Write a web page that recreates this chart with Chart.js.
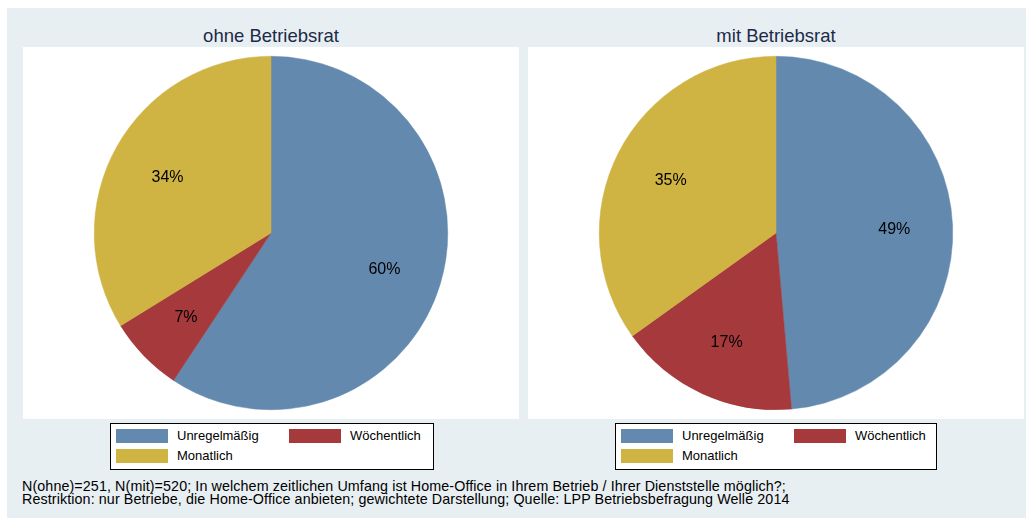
<!DOCTYPE html>
<html>
<head>
<meta charset="utf-8">
<script src="https://cdn.jsdelivr.net/npm/chart.js@4"></script>
<style>
  html, body { margin: 0; padding: 0; background: #fff; }
  body { width: 1026px; height: 518px; position: relative; overflow: hidden;
         font-family: "Liberation Sans", Arial, sans-serif; }
  #bg { position: absolute; left: 7px; top: 8px; width: 1019px; height: 510px; background: #e8eff2; }
  .plot { position: absolute; top: 47px; width: 496px; height: 372px; background: #fff; }
  .ptitle { position: absolute; top: 25px; width: 496px; text-align: center;
            font-size: 18.5px; color: #1c2a48; }
  .legend { position: absolute; top: 423px; height: 45px; border: 1px solid #000; background: #fff;
            font-size: 13px; color: #000; }
  .sw { position: absolute; width: 52px; height: 14px; }
  .lt { position: absolute; line-height: 14px; }
  #note { position: absolute; left: 22px; top: 480px; font-size: 14.3px; line-height: 13px;
          color: #000; letter-spacing: 0.1px; white-space: nowrap; }
</style>
</head>
<body>
<div id="bg"></div>
<div class="ptitle" style="left:23px">ohne Betriebsrat</div>
<div class="ptitle" style="left:528px">mit Betriebsrat</div>
<div class="plot" style="left:23px"><canvas id="pieOhne"></canvas></div>
<div class="plot" style="left:528px"><canvas id="pieMit"></canvas></div>
<div class="legend" id="legOhne" style="left:110px; width:322px"></div>
<div class="legend" id="legMit" style="left:615px; width:320px"></div>
<div id="note">N(ohne)=251, N(mit)=520; In welchem zeitlichen Umfang ist Home-Office in Ihrem Betrieb / Ihrer Dienststelle möglich?;<br>Restriktion: nur Betriebe, die Home-Office anbieten; gewichtete Darstellung; Quelle: LPP Betriebsbefragung Welle 2014</div>

<script>
const categories = ["Unregelmäßig", "Wöchentlich", "Monatlich"];
const ohneValues = [59.3, 6.9, 33.8];   // ohne Betriebsrat
const mitValues = [48.6, 16.5, 34.9];   // mit Betriebsrat
const ohneLabels = ["60%", "7%", "34%"];
const mitLabels = ["49%", "17%", "35%"];
const sliceColors = ["#638aae", "#a5393b", "#cfb343"];

// writes the percent text inside each slice
const sliceText = {
    id: 'sliceText',
    afterDatasetsDraw(chart, args, opts) {
        const ctx = chart.ctx;
        const meta = chart.getDatasetMeta(0);
        ctx.save();
        ctx.font = '16px "Liberation Sans", Arial, sans-serif';
        ctx.fillStyle = '#000';
        ctx.textAlign = 'center';
        ctx.textBaseline = 'middle';
        meta.data.forEach((arc, i) => {
            const p = arc.getProps(['x', 'y', 'startAngle', 'endAngle', 'outerRadius']);
            const mid = (p.startAngle + p.endAngle) / 2;
            const r = p.outerRadius * 0.67;
            ctx.fillText(opts.labels[i], p.x + Math.cos(mid) * r, p.y + Math.sin(mid) * r + 2);
        });
        ctx.restore();
    }
};

function makePie(id, values, labels) {
    return new Chart(document.getElementById(id), {
        type: 'pie',
        data: {
            labels: categories,
            datasets: [{
                data: values,
                backgroundColor: sliceColors,
                borderColor: sliceColors,
                borderWidth: 0.5
            }]
        },
        options: {
            responsive: true,
            maintainAspectRatio: false,
            animation: false,
            layout: { padding: 9 },
            plugins: {
                legend: { display: false },
                tooltip: { enabled: false },
                sliceText: { labels: labels }
            }
        },
        plugins: [sliceText]
    });
}

makePie('pieOhne', ohneValues, ohneLabels);
makePie('pieMit', mitValues, mitLabels);

// legend boxes, two columns
function makeLegend(id) {
    const el = document.getElementById(id);
    const spots = [[5, 5], [178, 5], [5, 25]];
    categories.forEach((c, i) => {
        const sw = document.createElement('div');
        sw.className = 'sw';
        sw.style.left = spots[i][0] + 'px';
        sw.style.top = spots[i][1] + 'px';
        sw.style.background = sliceColors[i];
        el.appendChild(sw);
        const t = document.createElement('div');
        t.className = 'lt';
        t.style.left = (spots[i][0] + 61) + 'px';
        t.style.top = spots[i][1] + 'px';
        t.textContent = c;
        el.appendChild(t);
    });
}
makeLegend('legOhne');
makeLegend('legMit');
</script>
</body>
</html>
